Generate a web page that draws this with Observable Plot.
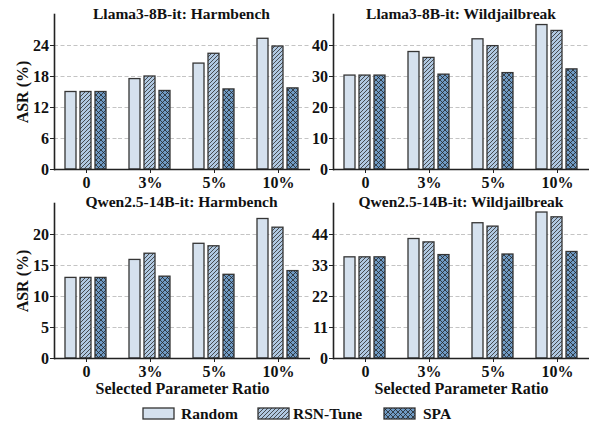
<!DOCTYPE html>
<html><head><meta charset="utf-8">
<script src="https://cdn.jsdelivr.net/npm/d3@7"></script>
<script src="https://cdn.jsdelivr.net/npm/@observablehq/plot@0.6"></script>
<style>
body{margin:0;background:#fff;}
#fig{position:relative;width:594px;height:425px;overflow:hidden;font-family:"Liberation Serif","Times New Roman",serif;font-weight:bold;color:#111;}
.panel{position:absolute;}
.title{position:absolute;font-size:15.5px;line-height:15.5px;white-space:nowrap;transform:translateX(-50%);}
.lg-text{position:absolute;font-size:15.5px;line-height:15.5px;white-space:nowrap;}
.lg-patch{position:absolute;}
</style></head>
<body>
<svg width="0" height="0" style="position:absolute">
  <defs>
    <pattern id="hatchRSN" patternUnits="userSpaceOnUse" width="4" height="4">
      <rect width="4" height="4" fill="#b0c8e1"/>
      <path d="M-1,1 l2,-2 M0,4 l4,-4 M3,5 l2,-2" stroke="#2a2a2a" stroke-width="0.8"/>
    </pattern>
    <pattern id="crossSPA" patternUnits="userSpaceOnUse" width="5" height="5">
      <rect width="5" height="5" fill="#709bc5"/>
      <path d="M0,0 L5,5 M5,0 L0,5" stroke="#1f1f1f" stroke-width="0.75"/>
    </pattern>
  </defs>
</svg>
<div id="fig"></div>
<script>
// ---- data ----
const ratios = ["0", "3%", "5%", "10%"];
const methods = ["Random", "RSN-Tune", "SPA"];

const llamaHarmRandom = [15.0, 17.5, 20.5, 25.3];
const llamaHarmRSN    = [15.0, 18.0, 22.4, 23.8];
const llamaHarmSPA    = [15.0, 15.2, 15.5, 15.7];
const llamaHarmTicks  = [0, 6, 12, 18, 24];

const llamaWildRandom = [30.3, 37.9, 42.0, 46.6];
const llamaWildRSN    = [30.3, 36.0, 39.8, 44.7];
const llamaWildSPA    = [30.3, 30.6, 31.1, 32.3];
const llamaWildTicks  = [0, 10, 20, 30, 40];

const qwenHarmRandom = [13.0, 15.9, 18.5, 22.5];
const qwenHarmRSN    = [13.0, 16.9, 18.1, 21.1];
const qwenHarmSPA    = [13.0, 13.2, 13.5, 14.1];
const qwenHarmTicks  = [0, 5, 10, 15, 20];

const qwenWildRandom = [35.9, 42.4, 48.0, 51.8];
const qwenWildRSN    = [35.9, 41.2, 46.8, 50.1];
const qwenWildSPA    = [35.9, 36.7, 36.9, 37.8];
const qwenWildTicks  = [0, 11, 22, 33, 44];

const titles = ["Llama3-8B-it: Harmbench", "Llama3-8B-it: Wildjailbreak", "Qwen2.5-14B-it: Harmbench", "Qwen2.5-14B-it: Wildjailbreak"];
const yLabel = "ASR (%)";
const xLabel = "Selected Parameter Ratio";
const methodFills = ["#d5e1ee", "url(#hatchRSN)", "url(#crossSPA)"];

// ---- layout ----
const panels = [
  {title: titles[0], series: [llamaHarmRandom, llamaHarmRSN, llamaHarmSPA], ticks: llamaHarmTicks, ymax: 30,
   left: 0, top: 0, width: 316, height: 195, ml: 53, mr: 6, mt: 14, mb: 26, ylab: true, xlab: false, titleTop: 5.5},
  {title: titles[1], series: [llamaWildRandom, llamaWildRSN, llamaWildSPA], ticks: llamaWildTicks, ymax: 50,
   left: 280, top: 0, width: 314, height: 195, ml: 52, mr: 4, mt: 14, mb: 26, ylab: false, xlab: false, titleTop: 5.5},
  {title: titles[2], series: [qwenHarmRandom, qwenHarmRSN, qwenHarmSPA], ticks: qwenHarmTicks, ymax: 25,
   left: 0, top: 190, width: 316, height: 210, ml: 53, mr: 6, mt: 13, mb: 42, ylab: true, xlab: true, titleTop: 194},
  {title: titles[3], series: [qwenWildRandom, qwenWildRSN, qwenWildSPA], ticks: qwenWildTicks, ymax: 55,
   left: 280, top: 190, width: 314, height: 210, ml: 52, mr: 4, mt: 13, mb: 42, ylab: false, xlab: true, titleTop: 194}
];

const fig = document.getElementById("fig");

for (const p of panels) {
  const data = ratios.flatMap((r, i) => methods.map((m, j) => ({ratio: r, method: m, value: p.series[j][i]})));
  const chart = Plot.plot({
    width: p.width, height: p.height,
    marginLeft: p.ml, marginRight: p.mr, marginTop: p.mt, marginBottom: p.mb,
    style: {fontFamily: '"Liberation Serif","Times New Roman",serif', fontSize: "16px", fontWeight: "bold", color: "#111", background: "transparent", overflow: "visible"},
    fx: {domain: ratios, padding: 0, label: null, axis: null},
    x: {domain: methods, paddingInner: 0.25, paddingOuter: 0.63, axis: null},
    y: {domain: [0, p.ymax], label: null, axis: null},
    color: {domain: methods, range: methodFills},
    marks: [
      Plot.ruleY(p.ticks.filter(t => t > 0), {stroke: "#bdbdbd", strokeDasharray: "4,2.5", strokeWidth: 0.9}),
      Plot.barY(data, {fx: "ratio", x: "method", y: "value", fill: "method", stroke: "#353535", strokeWidth: 1.3}),
      Plot.ruleY([0], {stroke: "#222", strokeWidth: 1.6}),
      Plot.frame({anchor: "left", facetAnchor: "left", stroke: "#222", strokeWidth: 1.6}),
      Plot.axisY({anchor: "left", ticks: p.ticks, tickSize: 4, tickPadding: 1.5, tickFormat: d => String(d),
        label: p.ylab ? yLabel : null, labelAnchor: "center", labelArrow: "none", labelOffset: 38, stroke: "#222"}),
      Plot.axisFx({anchor: "bottom", tickSize: 4, tickPadding: 3, label: p.xlab ? xLabel : null, labelAnchor: "center", labelArrow: "none", labelOffset: 35, stroke: "#222"})
    ]
  });
  chart.classList.add("panel");
  chart.style.left = p.left + "px";
  chart.style.top = p.top + "px";
  fig.appendChild(chart);

  const t = document.createElement("div");
  t.className = "title";
  t.textContent = p.title;
  t.style.left = (p.left + p.ml + (p.width - p.ml - p.mr) / 2) + "px";
  t.style.top = p.titleTop + "px";
  fig.appendChild(t);
}

// ---- legend ----
const legendPatchX = [143, 258, 384];
const legendTextX = [181, 293, 423];
methods.forEach((m, j) => {
  const ns = "http://www.w3.org/2000/svg";
  const s = document.createElementNS(ns, "svg");
  s.setAttribute("width", 33); s.setAttribute("height", 13);
  s.setAttribute("class", "lg-patch");
  s.style.left = (legendPatchX[j] - 1) + "px";
  s.style.top = "407px";
  const r = document.createElementNS(ns, "rect");
  r.setAttribute("x", 1); r.setAttribute("y", 1); r.setAttribute("width", 31); r.setAttribute("height", 11);
  r.setAttribute("fill", methodFills[j]); r.setAttribute("stroke", "#333"); r.setAttribute("stroke-width", 1.3);
  s.appendChild(r);
  fig.appendChild(s);
  const d = document.createElement("div");
  d.className = "lg-text";
  d.textContent = m;
  d.style.left = legendTextX[j] + "px";
  d.style.top = "406px";
  fig.appendChild(d);
});
</script>
</body></html>
